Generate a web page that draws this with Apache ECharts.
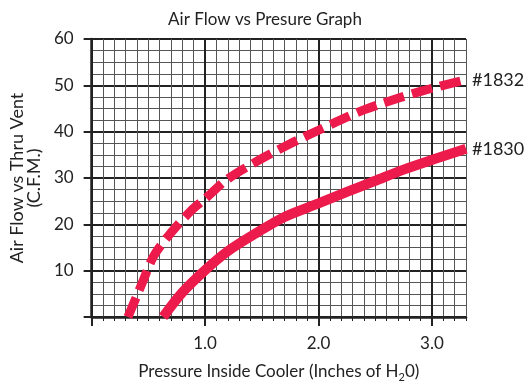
<!DOCTYPE html>
<html>
<head>
<meta charset="utf-8">
<script src="https://cdn.jsdelivr.net/npm/echarts@6/dist/echarts.min.js"></script>
<style>
  html, body { margin: 0; padding: 0; background: #fff; }
  #chart { width: 530px; height: 388px; }
</style>
</head>
<body>
<div id="chart"></div>
<script>
// pressure (inches of H2O) vs air flow (C.F.M.)
const x1832 = [0.32, 0.45, 0.55, 0.7, 0.875, 1.0, 1.2, 1.5, 1.75, 2.0, 2.2, 2.4, 2.7, 2.9, 3.1, 3.3]
const y1832 = [0, 7.6, 13.3, 18.2, 22.9, 25.5, 29.8, 34.2, 37.4, 40.3, 42.6, 44.7, 47.2, 48.7, 50.0, 51.2]
const x1830 = [0.63, 0.8, 1.0, 1.2, 1.45, 1.7, 2.0, 2.25, 2.5, 2.75, 3.05, 3.3]
const y1830 = [0, 5.3, 10.1, 14.2, 18.1, 21.6, 24.5, 27.0, 29.4, 31.8, 34.3, 36.3]
const xMajorTicks = [0, 1, 2, 3]
const xTickLabels = [1, 2, 3]

const FONT = 'Lato'
const RED = '#EC1B4B'
const INK = '#222'
const MINOR = '#555'

const chart = echarts.init(document.getElementById('chart'))

const pairs = (xs, ys) => xs.map((x, i) => [x, ys[i]])

chart.setOption({
  animation: false,
  textStyle: { fontFamily: FONT },
  title: {
    text: 'Air Flow vs Presure Graph',
    left: 'center',
    top: 6,
    textStyle: { fontFamily: FONT, fontSize: 17, fontWeight: 'normal', color: INK },
  },
  grid: { left: 90, right: 64, top: 39, bottom: 67 },
  xAxis: [
    {
      // minor grid every 0.1
      type: 'value', position: 'bottom', min: 0, max: 3.3, interval: 0.1,
      axisLine: { show: false },
      axisTick: { show: true, length: 4, lineStyle: { color: INK, width: 1 } },
      axisLabel: { show: false },
      splitLine: { show: true, lineStyle: { color: MINOR, width: 1 } },
    },
    {
      type: 'value', position: 'bottom', min: 0, max: 3.3, interval: 1,
      axisLine: { show: true, lineStyle: { color: INK, width: 2.5 } },
      axisTick: { show: true, length: 9, customValues: xMajorTicks, lineStyle: { color: INK, width: 2 } },
      axisLabel: {
        customValues: xTickLabels, margin: 18, fontSize: 17, color: INK,
        formatter: v => v.toFixed(1),
      },
      splitLine: { show: true, lineStyle: { color: INK, width: 2 } },
      name: '{a|Pressure Inside Cooler (Inches of H}{s|2}{a|0)}',
      nameLocation: 'middle',
      nameGap: 44,
      nameTextStyle: {
        rich: {
          a: { fontFamily: FONT, fontSize: 17, color: INK, lineHeight: 22, verticalAlign: 'middle' },
          s: { fontFamily: FONT, fontSize: 11, color: INK, verticalAlign: 'bottom' },
        },
      },
    },
  ],
  yAxis: {
    type: 'value', min: 0, max: 60, interval: 10,
    axisLine: { show: true, lineStyle: { color: INK, width: 2.5 } },
    axisTick: { show: true, length: 8, lineStyle: { color: INK, width: 2 } },
    axisLabel: {
      margin: 18, fontSize: 17, color: INK,
      formatter: v => (v === 0 ? '' : String(v)),
    },
    splitLine: { show: true, lineStyle: { color: INK, width: 2 } },
    minorTick: { show: false, splitNumber: 4 },
    minorSplitLine: { show: true, lineStyle: { color: MINOR, width: 1 } },
    name: 'Air Flow vs Thru Vent\n(C.F.M.)',
    nameLocation: 'middle',
    nameGap: 47,
    nameTextStyle: { fontFamily: FONT, fontSize: 18, color: INK, lineHeight: 17 },
  },
  series: [
    {
      name: '#1832',
      type: 'line',
      xAxisIndex: 1,
      data: pairs(x1832, y1832),
      smooth: 0.3,
      showSymbol: false,
      lineStyle: { color: RED, width: 9, type: [21, 8], cap: 'butt' },
      endLabel: { show: true, formatter: '#1832', fontSize: 18, color: INK, distance: 6 },
      z: 5,
    },
    {
      name: '#1830',
      type: 'line',
      xAxisIndex: 1,
      data: pairs(x1830, y1830),
      smooth: 0.3,
      showSymbol: false,
      lineStyle: { color: RED, width: 10 },
      endLabel: { show: true, formatter: '#1830', fontSize: 18, color: INK, distance: 6 },
      z: 5,
    },
  ],
})
</script>
</body>
</html>
